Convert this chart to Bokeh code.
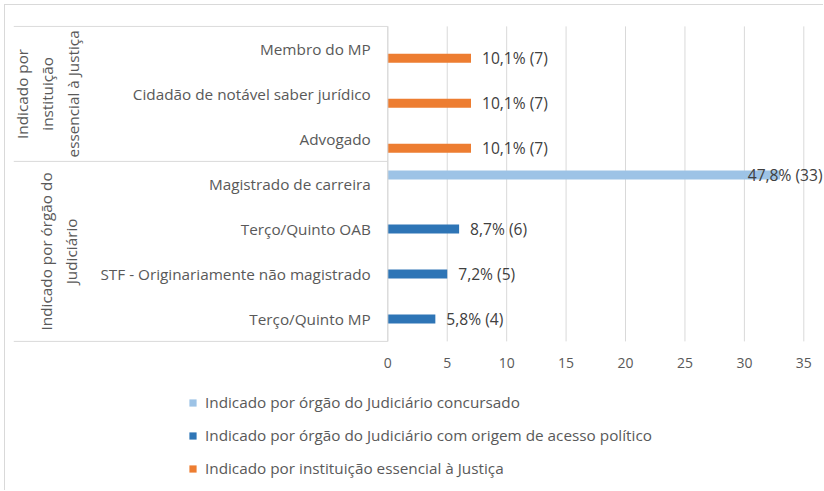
import math
from bokeh.plotting import figure
from bokeh.models import ColumnDataSource, Range1d, Legend, LegendItem
from bokeh.transform import dodge
from bokeh.core.properties import value
from bokeh.embed import file_html
from bokeh.resources import INLINE

# ---------------- data ----------------
categories = [
    "Membro do MP",
    "Cidadão de notável saber jurídico",
    "Advogado",
    "Magistrado de carreira",
    "Terço/Quinto OAB",
    "STF - Originariamente não magistrado",
    "Terço/Quinto MP",
]
group_names = ["Indicado por\ninstituição\nessencial à Justiça",
               "Indicado por órgão do\nJudiciário"]
group_sizes = [3, 4]

series_names = [
    "Indicado por órgão do Judiciário concursado",
    "Indicado por órgão do Judiciário com origem de acesso político",
    "Indicado por instituição essencial à Justiça",
]
concursado = [0, 0, 0, 33, 0, 0, 0]
politico = [0, 0, 0, 0, 6, 5, 4]
essencial = [7, 7, 7, 0, 0, 0, 0]
percent = [10.1, 10.1, 10.1, 47.8, 8.7, 7.2, 5.8]
x_ticks = [0, 5, 10, 15, 20, 25, 30, 35]

# ---------------- styles / layout ----------------
colors = ["#9DC3E6", "#2E75B6", "#ED7D31"]
offsets = [0.2, 0.0, -0.21]
FONT = "Open Sans"
GRAY = "#595959"
DARK = "#404040"
LINE = "#d9d9d9"
FS = "15.3px"
FS_DATA = "15.6px"

W, H = 819, 486
border_left, border_top = 8, 20
frame_left_px = 13.0
zero_px = 387.3
right_px = 824.0
ppu = 11.886           # pixels per x unit
ppc = 45.0             # pixels per category
x_start = -(zero_px - frame_left_px) / ppu
x_end = (right_px - zero_px) / ppu
group_label_center_px = [47, 58]

n = len(categories)
ypos = [n - i - 0.5 for i in range(n)]
y_top = n + 0.02
y_bottom = y_top - (H - border_top) / ppc

p = figure(width=W, height=H,
           x_range=Range1d(x_start, x_end), y_range=Range1d(y_bottom, y_top),
           output_backend="svg", toolbar_location=None,
           x_axis_location=None, y_axis_location=None,
           min_border_left=border_left, min_border_right=0, min_border_top=border_top,
           min_border_bottom=0, outline_line_color=None,
           background_fill_color="white", border_fill_color="white")
p.styles = {"border-top": "1px solid #d9d9d9", "border-left": "1px solid #d9d9d9",
            "margin-left": "4px", "margin-top": "4px"}
p.xgrid.grid_line_color = None
p.ygrid.grid_line_color = None

# vertical grid lines over the category block, with tick labels below
p.segment(x0=x_ticks, x1=x_ticks, y0=[0] * len(x_ticks), y1=[n] * len(x_ticks),
          line_color=LINE, line_width=1)
p.text(x=x_ticks, y=[0] * len(x_ticks), text=[str(t) for t in x_ticks],
       y_offset=22, text_align="center", text_baseline="middle",
       text_font=value(FONT), text_font_size="14px", text_color=GRAY)

# category block lines
bounds = [n]
acc = n
for g in group_sizes:
    acc -= g
    bounds.append(acc)
p.segment(x0=[x_start] * len(bounds), x1=[0] * len(bounds), y0=bounds, y1=bounds,
          line_color=LINE, line_width=1)

# category labels
p.text(x=[0] * n, y=ypos, text=categories, x_offset=-17, text_align="right",
       text_baseline="middle", text_font=value(FONT), text_font_size=FS,
       text_color=GRAY)

# group labels
gy = []
top = n
for g in group_sizes:
    gy.append(top - g / 2)
    top -= g
gx = [(px - zero_px) / ppu for px in group_label_center_px]
p.text(x=gx, y=gy, text=group_names, angle=math.pi / 2, text_align="center",
       text_baseline="middle", text_line_height=1.28, text_font=value(FONT),
       text_font_size=FS, text_color=GRAY)

# bars
items = []
for name, vals, col, off in zip(series_names, [concursado, politico, essencial], colors, offsets):
    idx = [i for i, v in enumerate(vals) if v > 0]
    labels = ["{}% ({})".format(str(percent[i]).replace(".", ","), vals[i]) for i in idx]
    src = ColumnDataSource(dict(y=[ypos[i] for i in idx], v=[vals[i] for i in idx]))
    r = p.hbar(y=dodge("y", off, range=p.y_range), left=0, right="v", height=0.2,
               fill_color=col, line_color=None, source=src)
    items.append(LegendItem(label=name, renderers=[r]))
    # data labels (kept inside the plotting area)
    fit_x, fit_y, fit_t, end_y, end_t = [], [], [], [], []
    for i, t in zip(idx, labels):
        if vals[i] + (11 + 8 * len(t)) / ppu > x_end:
            end_y.append(ypos[i]); end_t.append(t)
        else:
            fit_x.append(vals[i]); fit_y.append(ypos[i]); fit_t.append(t)
    if fit_t:
        s2 = ColumnDataSource(dict(x=fit_x, y=fit_y, t=fit_t))
        p.text(x="x", y=dodge("y", off, range=p.y_range), text="t", source=s2,
               x_offset=11, text_align="left", text_baseline="middle",
               text_font=value(FONT), text_font_size=FS_DATA, text_color=DARK)
    if end_t:
        s3 = ColumnDataSource(dict(x=[x_end] * len(end_t), y=end_y, t=end_t))
        p.text(x="x", y=dodge("y", off, range=p.y_range), text="t", source=s3,
               x_offset=-2, text_align="right", text_baseline="middle",
               text_font=value(FONT), text_font_size=FS_DATA, text_color=DARK)

# axis line between the category block and the bars
p.segment(x0=[0], x1=[0], y0=[0], y1=[n], line_color=LINE, line_width=1)

legend = Legend(items=items, location=(175, 13), orientation="vertical",
                glyph_width=9, glyph_height=9, label_height=20, spacing=13,
                padding=0, margin=0, border_line_color=None,
                background_fill_alpha=0, label_text_font=FONT,
                label_text_font_size=FS, label_text_color=GRAY,
                label_standoff=8)
p.add_layout(legend, "center")

open("out.html", "w").write(file_html(p, INLINE))
